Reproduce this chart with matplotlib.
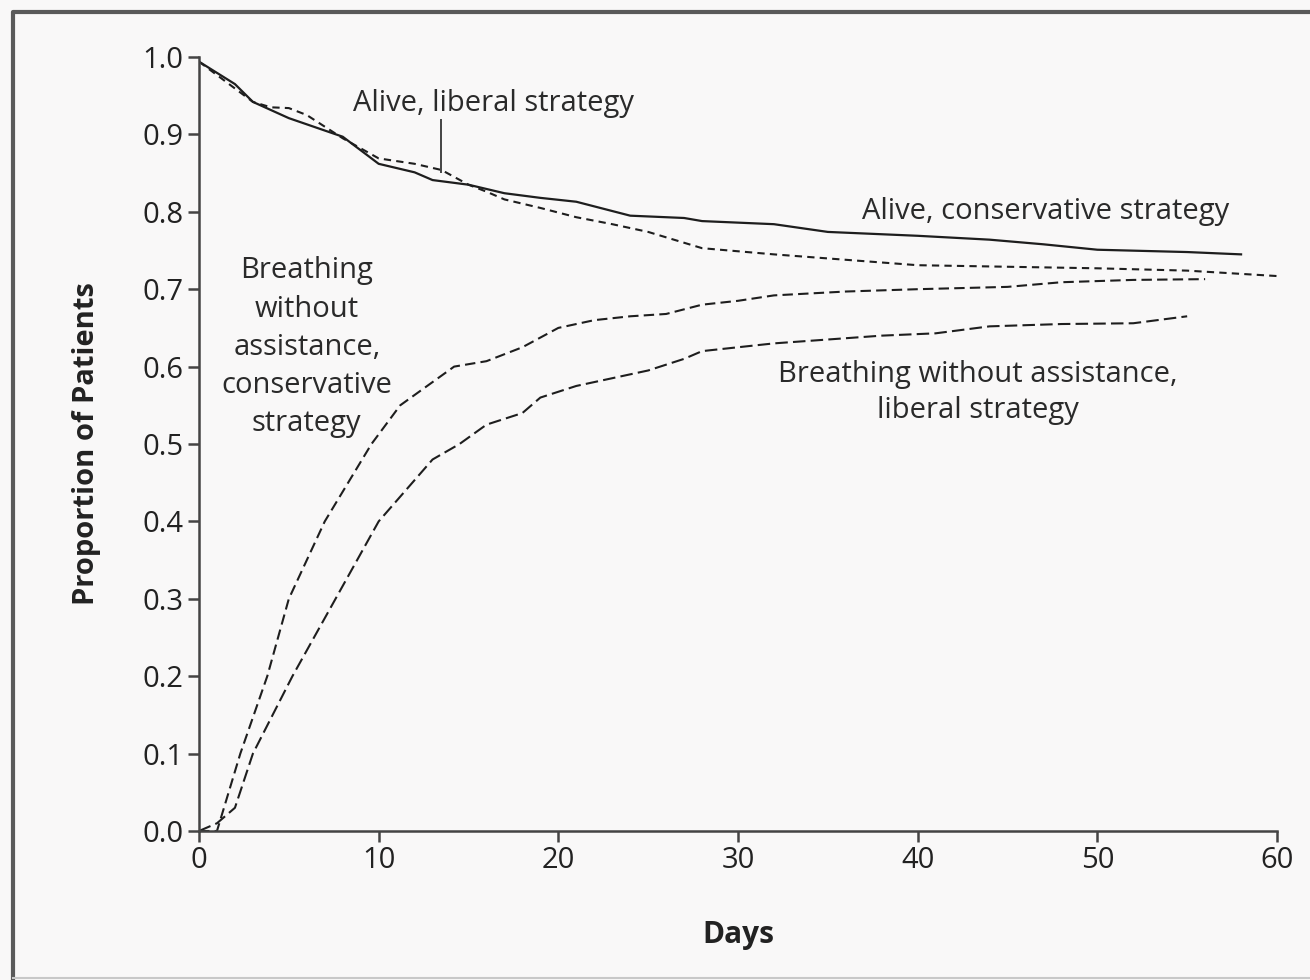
import matplotlib.pyplot as plt
from matplotlib.lines import Line2D

plt.rcParams['font.family'] = ['Open Sans', 'DejaVu Sans']

# survival curves (proportion alive)
alive_cons_days = [0, 2, 3, 5, 7, 8, 10, 12, 13, 15, 17, 19, 21, 24, 27, 28, 32, 35, 40, 44, 47, 50, 55, 58]
alive_cons = [0.994, 0.965, 0.942, 0.921, 0.905, 0.897, 0.862, 0.851, 0.841, 0.835, 0.824, 0.818,
              0.813, 0.795, 0.792, 0.788, 0.784, 0.774, 0.769, 0.764, 0.758, 0.751, 0.748, 0.745]

alive_lib_days = [0, 3, 4, 5, 6, 8, 10, 12, 13.5, 15, 16, 17, 19, 21, 23, 25, 27, 28, 32, 36, 40, 45, 50, 55, 60]
alive_lib = [0.994, 0.942, 0.935, 0.934, 0.925, 0.895, 0.869, 0.862, 0.854, 0.835, 0.826, 0.816,
             0.805, 0.793, 0.784, 0.774, 0.760, 0.753, 0.745, 0.738, 0.731, 0.729, 0.727, 0.724, 0.717]

# breathing without assistance
breath_cons_days = [0, 1, 2.3, 3.8, 5, 7, 9.6, 11.2, 14.2, 16, 18, 20, 22, 24, 26, 28, 30, 32, 36, 40,
                    45, 48, 52, 56]
breath_cons = [0.0, 0.0, 0.1, 0.2, 0.3, 0.4, 0.5, 0.55, 0.6, 0.607, 0.625, 0.65, 0.66, 0.665, 0.668,
               0.68, 0.685, 0.692, 0.697, 0.70, 0.703, 0.709, 0.712, 0.713]

breath_lib_days = [0, 1, 2, 3, 5.2, 7.6, 10, 13, 14.5, 16, 18, 19, 21, 23, 25, 27, 28, 30, 32, 35, 38,
                   41, 44, 48, 52, 55]
breath_lib = [0.0, 0.01, 0.03, 0.1, 0.2, 0.3, 0.4, 0.48, 0.5, 0.525, 0.54, 0.56, 0.575, 0.585, 0.595,
              0.61, 0.62, 0.625, 0.63, 0.635, 0.64, 0.643, 0.652, 0.655, 0.656, 0.665]

x_ticks = [0, 10, 20, 30, 40, 50, 60]
y_ticks = [0.0, 0.1, 0.2, 0.3, 0.4, 0.5, 0.6, 0.7, 0.8, 0.9, 1.0]

ink = '#1e1e1e'
bg = '#f9f8f8'

fig = plt.figure(figsize=(13.1, 9.8), dpi=100, facecolor=bg)
# outer frame: heavy top and left, faint bottom, open on the right
fx0, fy_top, fy_bot = 13 / 1310, 1 - 12 / 980, 1 - 978 / 980
fig.lines.append(Line2D([1.0, fx0, fx0], [fy_top, fy_top, fy_bot], transform=fig.transFigure,
                        color='#5a5a5a', linewidth=3))
fig.lines.append(Line2D([fx0, 1.0], [fy_bot, fy_bot], transform=fig.transFigure,
                        color='#c8c8c8', linewidth=1.5))

ax = fig.add_axes([199 / 1310, 1 - 831 / 980, 1078 / 1310, 774 / 980])
ax.set_facecolor(bg)

ax.plot(alive_cons_days, alive_cons, color=ink, lw=1.6, solid_joinstyle='round')
ax.plot(alive_lib_days, alive_lib, color=ink, lw=1.5, dashes=(3.5, 2.5))
ax.plot(breath_cons_days, breath_cons, color=ink, lw=1.5, dashes=(5, 2.5))
ax.plot(breath_lib_days, breath_lib, color=ink, lw=1.5, dashes=(6, 2.5))

ax.set_xlim(0, 60)
ax.set_ylim(0, 1.0)
ax.set_xticks(x_ticks)
ax.set_yticks(y_ticks)
ax.set_yticklabels([f'{v:.1f}' for v in y_ticks])
for side in ['top', 'right']:
    ax.spines[side].set_visible(False)
for side in ['left', 'bottom']:
    ax.spines[side].set_color('#444444')
    ax.spines[side].set_linewidth(1.8)
ax.tick_params(direction='out', length=8, width=1.8, color='#444444', labelsize=21,
               labelcolor='#222222', pad=3)
ax.set_xlabel('Days', fontsize=21.5, fontweight='bold', labelpad=32, color='#222222')
ax.set_ylabel('Proportion of Patients', fontsize=21, fontweight='bold', labelpad=30, color='#222222')

txt = dict(fontsize=21, color='#2a2a2a', ha='center', va='center')
ax.text(16.4, 0.94, 'Alive, liberal strategy', **txt)
ax.plot([13.47, 13.47], [0.851, 0.919], color='#444444', lw=1.4)
ax.text(47.1, 0.80, 'Alive, conservative strategy', **txt)
ax.text(6.0, 0.625, 'Breathing\nwithout\nassistance,\nconservative\nstrategy', linespacing=1.42, **txt)
ax.text(43.35, 0.566, 'Breathing without assistance,\nliberal strategy', linespacing=1.32, **txt)

fig.savefig('out.png', dpi=100, facecolor=bg)
